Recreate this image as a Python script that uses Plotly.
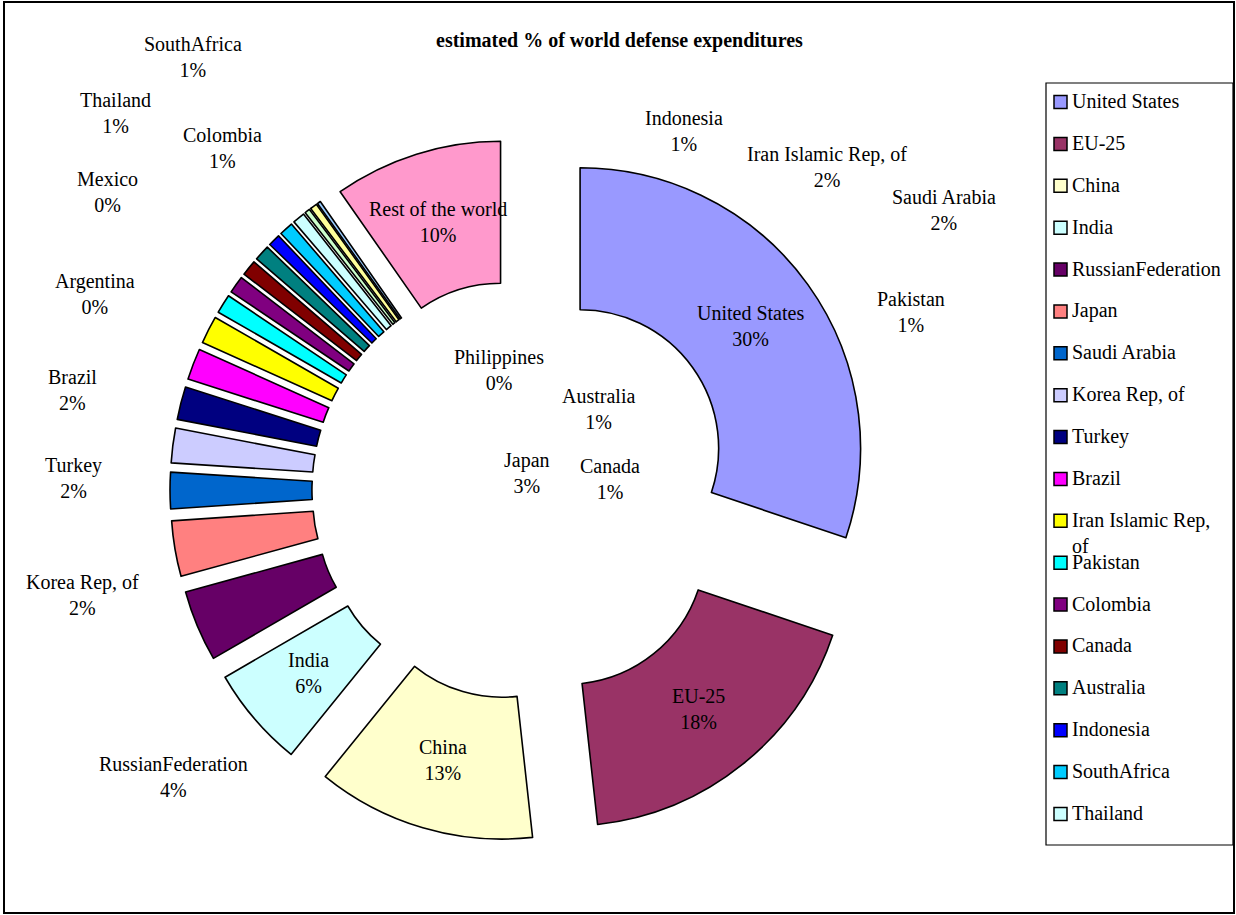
import math
import textwrap
import plotly.graph_objects as go

# ---- data: estimated share of world defense expenditures (%) ----
countries = [
    "United States", "EU-25", "China", "India", "RussianFederation", "Japan",
    "Saudi Arabia", "Korea Rep, of", "Turkey", "Brazil", "Iran Islamic Rep, of",
    "Pakistan", "Colombia", "Canada", "Australia", "Indonesia", "SouthAfrica",
    "Thailand", "Mexico", "Argentina", "Philippines", "Rest of the world",
]
shares = [
    30.2, 18.1, 12.6, 5.8, 4.1, 3.2,
    2.1, 2.0, 1.9, 1.8, 1.6,
    1.1, 1.0, 0.9, 0.9, 0.7, 0.8,
    0.7, 0.3, 0.4, 0.2, 9.7,
]
colors = [
    "#9999FF", "#993366", "#FFFFCC", "#CCFFFF", "#660066", "#FF8080",
    "#0066CC", "#CCCCFF", "#000080", "#FF00FF", "#FFFF00",
    "#00FFFF", "#800080", "#800000", "#008080", "#0000FF", "#00CCFF",
    "#CCFFFF", "#CCFFCC", "#FFFF99", "#99CCFF", "#FF99CC",
]
legend_entries = countries[:18]
title_text = "estimated % of world defense expenditures"

# ---- layout constants (pixels) ----
W, H = 1236, 915
CX, CY = 522, 490          # doughnut centre
OUTER = 352                # radius incl. explosion
PULL = 0.255
HOLE = 0.494
FONT = "Liberation Serif, Times New Roman, serif"

# labels drawn inside the ring (others are placed individually)
inside = {"United States", "EU-25", "China", "India", "Rest of the world"}
label_px = {
    "RussianFederation": (173, 777),
    "Japan": (527, 473),
    "Saudi Arabia": (944, 210),
    "Korea Rep, of": (83, 595),
    "Turkey": (73, 478),
    "Brazil": (72, 390),
    "Iran Islamic Rep, of": (827, 167),
    "Pakistan": (911, 312),
    "Colombia": (222, 148),
    "Canada": (610, 479),
    "Australia": (598, 409),
    "Indonesia": (684, 131),
    "SouthAfrica": (193, 57),
    "Thailand": (115, 113),
    "Mexico": (107, 192),
    "Argentina": (95, 294),
    "Philippines": (499, 370),
}


def px(x, y):
    return x / W, 1 - y / H


fig = go.Figure()
fig.add_trace(go.Pie(
    labels=countries,
    values=shares,
    sort=False,
    direction="clockwise",
    rotation=0,
    hole=HOLE,
    pull=[PULL] * len(shares),
    marker=dict(colors=colors, line=dict(color="black", width=1.6)),
    textinfo="none",
    hoverinfo="label+percent",
    showlegend=False,
    domain=dict(
        x=[(CX - OUTER) / W, (CX + OUTER) / W],
        y=[1 - (CY + OUTER) / H, 1 - (CY - OUTER) / H],
    ),
))

annotations = []
shapes = []

# slice labels
total = sum(shares)
R = OUTER / (1 + PULL)
r_in = R * HOLE
cum = 0.0
for name, v in zip(countries, shares):
    pct = v / total
    mid = (cum + pct / 2) * 2 * math.pi
    cum += pct
    text = f"{name}<br>{round(pct * 100):.0f}%"
    if name in inside:
        dist = PULL * R + (R + r_in) / 2
        lx, ly = CX + dist * math.sin(mid), CY - dist * math.cos(mid)
    else:
        lx, ly = label_px[name]
    ax, ay = px(lx, ly)
    annotations.append(dict(
        x=ax, y=ay, xref="paper", yref="paper", text=text, showarrow=False,
        xanchor="center", yanchor="middle", align="center",
        font=dict(family=FONT, size=20, color="black"),
    ))

# title
tx, ty = px(619, 40)
annotations.append(dict(
    x=tx, y=ty, xref="paper", yref="paper", text=f"<b>{title_text}</b>",
    showarrow=False, xanchor="center", yanchor="middle",
    font=dict(family=FONT, size=20, color="black"),
))

# legend box
lx0, ly0 = px(1046, 83)
lx1, ly1 = px(1233, 845)
shapes.append(dict(type="rect", xref="paper", yref="paper",
                   x0=lx0, y0=ly1, x1=lx1, y1=ly0,
                   line=dict(color="black", width=1.2), fillcolor="white",
                   layer="below"))
step = (814 - 102) / 17
for i, name in enumerate(legend_entries):
    yc = 102 + i * step
    sx0, sy0 = px(1054, yc - 6.5)
    sx1, sy1 = px(1067, yc + 6.5)
    shapes.append(dict(type="rect", xref="paper", yref="paper",
                       x0=sx0, y0=sy1, x1=sx1, y1=sy0,
                       line=dict(color="black", width=1.5),
                       fillcolor=colors[i]))
    wrapped = "<br>".join(textwrap.wrap(name, 17))
    tx, ty = px(1071, yc - 13)
    annotations.append(dict(
        x=tx, y=ty, xref="paper", yref="paper", text=wrapped,
        showarrow=False, xanchor="left", yanchor="top", align="left",
        borderpad=0,
        font=dict(family=FONT, size=20, color="black"),
    ))

# outer chart frame
fx0, fy0 = px(4, 2)
fx1, fy1 = px(1234, 913)
shapes.append(dict(type="rect", xref="paper", yref="paper",
                   x0=fx0, y0=fy1, x1=fx1, y1=fy0,
                   line=dict(color="black", width=2), layer="below"))

fig.update_layout(
    width=W, height=H,
    margin=dict(l=0, r=0, t=0, b=0),
    paper_bgcolor="white",
    plot_bgcolor="white",
    annotations=annotations,
    shapes=shapes,
    showlegend=False,
)

fig.write_html("out.html")
